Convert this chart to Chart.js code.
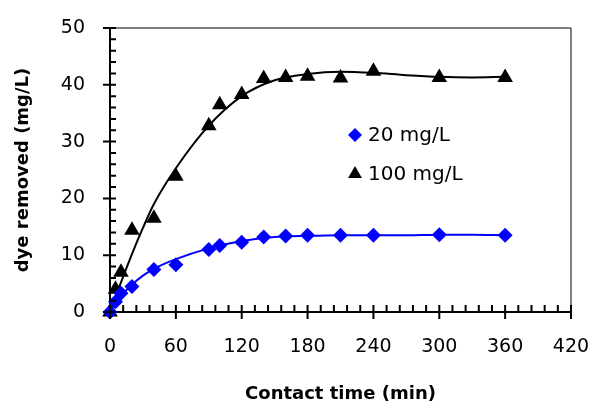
<!DOCTYPE html>
<html>
<head>
<meta charset="utf-8">
<script src="https://cdn.jsdelivr.net/npm/chart.js@4"></script>
<style>
	html, body { margin: 0; padding: 0; background: #fff; }
	#wrap { width: 590px; height: 406px; }
</style>
</head>
<body>
<div id="wrap"><canvas id="kineticChart" width="590" height="406"></canvas></div>
<script>
// Contact time (min) of the measured points
const times = [0, 5, 10, 20, 40, 60, 90, 100, 120, 140, 160, 180, 210, 240, 300, 360];
// dye removed (mg/L)
const removed20 = [0, 1.8, 3.3, 4.5, 7.5, 8.3, 11.0, 11.7, 12.3, 13.2, 13.4, 13.5, 13.5, 13.5, 13.6, 13.5];
const removed100 = [0, 4.0, 7.0, 14.4, 16.5, 23.9, 32.8, 36.5, 38.3, 41.1, 41.3, 41.5, 41.2, 42.4, 41.3, 41.3];

// Fitted curves
const fitTimes = [0, 10, 20, 30, 40, 60, 90, 120, 150, 180, 210, 240, 270, 300, 330, 360];
const fit20 = [0, 2.8, 4.8, 6.4, 7.6, 9.3, 11.2, 12.5, 13.2, 13.4, 13.5, 13.5, 13.5, 13.6, 13.6, 13.5];
const fit100 = [0, 5.2, 10.2, 14.8, 19.0, 25.3, 32.8, 38.0, 40.8, 41.9, 42.3, 42.1, 41.7, 41.4, 41.3, 41.4];

const seriesLabels = ["20 mg/L", "100 mg/L"];
const xTicks = [0, 60, 120, 180, 240, 300, 360, 420];
const yTicks = [0, 10, 20, 30, 40, 50];

const FONT = "'DejaVu Sans', sans-serif";

function toPoints(xs, ys) {
	return xs.map((x, i) => ({ x: x, y: ys[i] }));
}

// fixed axis box sizes, so the plot area sits where it does in the picture
function fixSize(scale, w, h) {
	if (w) scale.width = w;
	if (h) scale.height = h;
	scale.paddingLeft = 0;
	scale.paddingRight = 0;
	scale.paddingTop = 0;
	scale.paddingBottom = 0;
}

// Box round the plot, minor/major tick marks and the legend inside the plot
const framePlugin = {
	id: "frame",
	afterDatasetsDraw(chart) {
		const ctx = chart.ctx;
		const area = chart.chartArea;
		const xs = chart.scales.x;
		const ys = chart.scales.y;
		ctx.save();
		ctx.strokeStyle = "#000";
		ctx.lineWidth = 1;
		ctx.beginPath();
		ctx.moveTo(area.left, area.top);
		ctx.lineTo(area.right, area.top);
		ctx.lineTo(area.right, area.bottom);
		ctx.stroke();

		ctx.lineWidth = 2;
		ctx.beginPath();
		// x ticks, minor every 12 min
		for (let v = 0; v <= 420; v += 12) {
			const px = xs.getPixelForValue(v);
			const major = v % 60 === 0;
			ctx.moveTo(px, area.bottom - 7);
			ctx.lineTo(px, major ? area.bottom + 7 : area.bottom);
		}
		// y ticks, minor every 2 mg/L
		for (let v = 0; v <= 50; v += 2) {
			const py = ys.getPixelForValue(v);
			const major = v % 10 === 0;
			ctx.moveTo(major ? area.left - 7 : area.left, py);
			ctx.lineTo(area.left + 6, py);
		}
		ctx.stroke();
		ctx.restore();
	},
	afterDraw(chart) {
		const ctx = chart.ctx;
		const entries = [
			{ ds: chart.data.datasets[0], y: 135 },
			{ ds: chart.data.datasets[1], y: 174 }
		];
		ctx.save();
		ctx.font = "20px " + FONT;
		ctx.textBaseline = "middle";
		entries.forEach(e => {
			ctx.fillStyle = e.ds.backgroundColor;
			Chart.helpers.drawPoint(ctx, {
				pointStyle: e.ds.pointStyle,
				radius: e.ds.pointStyle === "triangle" ? 8 : 7,
				borderWidth: 0
			}, 355, e.y);
			ctx.fillStyle = "#000";
			ctx.fillText(e.ds.label, 368, e.y + 1);
		});
		ctx.restore();
	}
};

new Chart(document.getElementById("kineticChart"), {
	type: "scatter",
	data: {
		datasets: [
			{
				label: seriesLabels[0],
				data: toPoints(times, removed20),
				pointStyle: "rectRot",
				pointRadius: 7.5,
				backgroundColor: "#0000ff",
				borderColor: "#0000ff",
				borderWidth: 0,
				showLine: false,
				clip: false,
				order: 0
			},
			{
				label: seriesLabels[1],
				data: toPoints(times, removed100),
				pointStyle: "triangle",
				pointRadius: 9,
				backgroundColor: "#000000",
				borderColor: "#000000",
				borderWidth: 0,
				showLine: false,
				clip: false,
				order: 0
			},
			{
				label: "fit 20",
				data: toPoints(fitTimes, fit20),
				showLine: true,
				pointRadius: 0,
				borderColor: "#0000ff",
				borderWidth: 2,
				cubicInterpolationMode: "monotone",
				order: 1
			},
			{
				label: "fit 100",
				data: toPoints(fitTimes, fit100),
				showLine: true,
				pointRadius: 0,
				borderColor: "#000000",
				borderWidth: 2,
				cubicInterpolationMode: "monotone",
				order: 1
			}
		]
	},
	options: {
		responsive: false,
		animation: false,
		layout: { padding: { left: 0, right: 19, top: 28, bottom: 0 } },
		plugins: {
			legend: { display: false },
			tooltip: { enabled: false }
		},
		scales: {
			x: {
				type: "linear",
				min: 0,
				max: 420,
				afterBuildTicks: scale => { scale.ticks = xTicks.map(v => ({ value: v })); },
				afterFit: scale => fixSize(scale, 0, 94),
				grid: { display: false, drawTicks: false },
				border: { display: true, color: "#000", width: 2 },
				ticks: { color: "#000", padding: 24, maxRotation: 0, font: { family: FONT, size: 19 } },
				title: {
					display: true,
					text: "Contact time (min)",
					color: "#000",
					padding: { top: 0, bottom: 1 },
					font: { family: FONT, size: 18, weight: "bold" }
				}
			},
			y: {
				min: 0,
				max: 50,
				afterBuildTicks: scale => { scale.ticks = yTicks.map(v => ({ value: v })); },
				afterFit: scale => fixSize(scale, 110, 0),
				grid: { display: false, drawTicks: false },
				border: { display: true, color: "#000", width: 2 },
				ticks: { color: "#000", padding: 25, font: { family: FONT, size: 19 } },
				title: {
					display: true,
					text: "dye removed (mg/L)",
					color: "#000",
					padding: { top: 13, bottom: 0 },
					font: { family: FONT, size: 18, weight: "bold" }
				}
			}
		}
	},
	plugins: [framePlugin]
});
</script>
</body>
</html>
